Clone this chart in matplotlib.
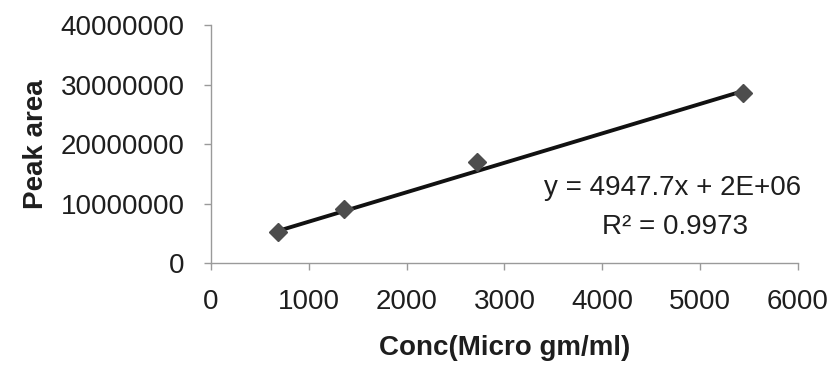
import matplotlib.pyplot as plt
import numpy as np

# Calibration data: concentration vs peak area
conc = [680, 1360, 2720, 5440]
peak_area = [5.26e6, 9.02e6, 16.9e6, 28.6e6]

# Linear trendline reported for the calibration
slope = 4947.7
intercept = 2e6
r_squared = 0.9973

x_ticks = [0, 1000, 2000, 3000, 4000, 5000, 6000]
y_ticks = [0, 10000000, 20000000, 30000000, 40000000]

plt.rcParams['font.family'] = ['Liberation Sans', 'DejaVu Sans']
text_color = '#1e1e1e'
axis_color = '#9a9a9a'
fs = 20

fig = plt.figure(figsize=(8.32, 3.69), dpi=100)
ax = fig.add_axes([0.2536, 0.2873, 0.959 - 0.2536, 0.932 - 0.2873])

x_fit = np.array([min(conc), max(conc)])
ax.plot(x_fit, slope * x_fit + intercept, color='#111111', linewidth=2.8, zorder=2)
ax.plot(conc, peak_area, linestyle='none', marker='D', markersize=9.5,
        color='#4d4d4d', zorder=3)

ax.set_xlim(0, 6000)
ax.set_ylim(0, 40000000)
ax.set_xticks(x_ticks)
ax.set_yticks(y_ticks)
ax.set_xticklabels([str(t) for t in x_ticks])
ax.set_yticklabels([str(t) for t in y_ticks])

for side in ['top', 'right']:
    ax.spines[side].set_visible(False)
for side in ['left', 'bottom']:
    ax.spines[side].set_color(axis_color)
    ax.spines[side].set_linewidth(1.0)
ax.tick_params(axis='both', colors=axis_color, labelcolor=text_color,
               labelsize=fs, length=5, width=1.0, direction='out')
ax.tick_params(axis='x', pad=14)
ax.tick_params(axis='y', pad=14)

ax.set_xlabel('Conc(Micro gm/ml)', fontsize=fs, fontweight='bold',
              color=text_color, labelpad=14)
ax.set_ylabel('Peak area', fontsize=fs, fontweight='bold',
              color=text_color, labelpad=8)

ax.text(0.786, 0.315, f'y = {slope}x + 2E+06', transform=ax.transAxes,
        ha='center', va='center', fontsize=fs, color=text_color)
ax.text(0.79, 0.15, f'R² = {r_squared}', transform=ax.transAxes,
        ha='center', va='center', fontsize=fs, color=text_color)

fig.savefig('out.png', dpi=100)
